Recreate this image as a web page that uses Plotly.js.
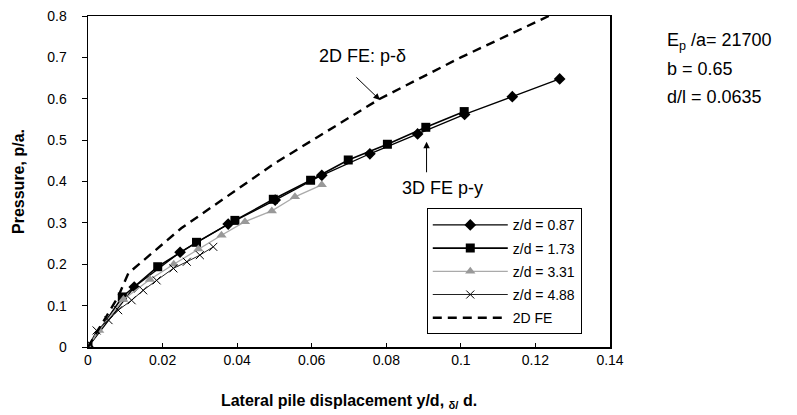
<!DOCTYPE html>
<html>
<head>
<meta charset="utf-8">
<script src="https://cdn.plot.ly/plotly-3.0.1.min.js"></script>
<style>html,body{margin:0;padding:0;background:#fff}#chart{width:797px;height:415px}</style>
</head>
<body>
<div id="chart"></div>
<script>
// z/d = 0.87 (diamonds)
const x087 = [0, 0.0124, 0.0247, 0.0376, 0.0502, 0.0627, 0.0756, 0.0884, 0.1010, 0.1138, 0.1265];
const y087 = [0, 0.145, 0.229, 0.297, 0.355, 0.415, 0.467, 0.515, 0.562, 0.605, 0.648];
// z/d = 1.73 (squares)
const x173 = [0, 0.0092, 0.0187, 0.0291, 0.0394, 0.0497, 0.0597, 0.0698, 0.0803, 0.0906, 0.1009];
const y173 = [0, 0.121, 0.194, 0.253, 0.306, 0.357, 0.403, 0.452, 0.490, 0.531, 0.569];
// z/d = 3.31 (triangles)
const x331 = [0, 0.0030, 0.0095, 0.0166, 0.0230, 0.0296, 0.0358, 0.0421, 0.0493, 0.0555, 0.0627];
const y331 = [0, 0.040, 0.115, 0.163, 0.200, 0.237, 0.270, 0.303, 0.329, 0.363, 0.392];
// z/d = 4.88 (crosses)
const x488 = [0, 0.0023, 0.0055, 0.0081, 0.0117, 0.0148, 0.0184, 0.0229, 0.0265, 0.0300, 0.0336];
const y488 = [0, 0.040, 0.065, 0.089, 0.113, 0.137, 0.161, 0.190, 0.206, 0.222, 0.242];
// 2D FE (dashed)
const x2d = [0, 0.0080, 0.0108, 0.0250, 0.0501, 0.0783, 0.1000, 0.1243];
const y2d = [0, 0.120, 0.178, 0.287, 0.444, 0.600, 0.700, 0.803];

const names = ['z/d = 0.87', 'z/d = 1.73', 'z/d = 3.31', 'z/d = 4.88', '2D FE'];
const xTicks = [0, 0.02, 0.04, 0.06, 0.08, 0.1, 0.12, 0.14];
const xTickText = ['0', '0.02', '0.04', '0.06', '0.08', '0.1', '0.12', '0.14'];
const yTicks = [0, 0.1, 0.2, 0.3, 0.4, 0.5, 0.6, 0.7, 0.8];
const yTickText = ['0', '0.1', '0.2', '0.3', '0.4', '0.5', '0.6', '0.7', '0.8'];

const font = 'Arial, "Liberation Sans", sans-serif';
const traces = [
  {x: x087, y: y087, name: names[0], legendgroup: 'a', mode: 'lines+markers',
   line: {color: '#000', width: 1.3}, marker: {symbol: 'diamond', size: 9, color: '#000'}},
  {x: x173, y: y173, name: names[1], legendgroup: 'b', mode: 'lines+markers',
   line: {color: '#000', width: 1.6}, marker: {symbol: 'square', size: 9, color: '#000'}},
  {x: x331, y: y331, name: names[2], legendgroup: 'c', mode: 'lines+markers',
   line: {color: '#aaa', width: 1.3}, marker: {symbol: 'triangle-up', size: 9, color: '#999'}},
  {x: x488, y: y488, name: names[3], legendgroup: 'd', mode: 'lines+markers',
   line: {color: '#222', width: 1}, marker: {symbol: 'x-thin', size: 8, color: '#000', line: {color: '#000', width: 1}}},
  {x: x2d, y: y2d, name: names[4], legendgroup: 'e', mode: 'lines',
   line: {color: '#000', width: 2.4, dash: '9px,6px'}}
];

const layout = {
  width: 797, height: 415,
  margin: {l: 88, r: 187, t: 16, b: 68},
  paper_bgcolor: '#fff', plot_bgcolor: '#fff',
  font: {family: font, color: '#000', size: 14},
  showlegend: true,
  legend: {x: 0.649, xanchor: 'left', y: 0.419, yanchor: 'top',
    bordercolor: '#000', borderwidth: 1, bgcolor: '#fff', itemwidth: 75,
    font: {family: font, size: 14, color: '#000'}, tracegroupgap: 2, traceorder: 'grouped'},
  xaxis: {range: [0, 0.14], tickvals: xTicks, ticktext: xTickText, showgrid: false, zeroline: false,
    showline: true, linecolor: '#000', linewidth: 1.5, mirror: true,
    ticks: 'inside', ticklen: 4, tickcolor: '#000',
    tickfont: {family: font, size: 14},
    title: {text: '<b>Lateral pile displacement y/d, <sub>δ/</sub> d.</b>', font: {family: font, size: 16}, standoff: 27}},
  yaxis: {range: [0, 0.8], tickvals: yTicks, ticktext: yTickText, showgrid: false, zeroline: false,
    showline: true, linecolor: '#000', linewidth: 1.5, mirror: true,
    ticks: 'outside', ticklen: 5, tickcolor: '#000', ticklabelstandoff: 12,
    tickfont: {family: font, size: 14},
    title: {text: '<b>Pressure, p/a.</b>', font: {family: font, size: 16}, standoff: 18}},
  annotations: [
    {x: 362, y: 56, xref: 'paper', yref: 'paper', text: '2D FE: p-δ', showarrow: false,
     font: {family: font, size: 18}, xanchor: 'center', yanchor: 'middle'},
    {x: 0.0783, y: 0.597, xref: 'x', yref: 'y', text: '', showarrow: true, ax: -25, ay: -24,
     arrowhead: 2, arrowsize: 1.3, arrowwidth: 1, arrowcolor: '#000'},
    {x: 0.0908, y: 0.496, xref: 'x', yref: 'y', text: '', showarrow: true, ax: 0, ay: 32,
     arrowhead: 2, arrowsize: 1.3, arrowwidth: 1, arrowcolor: '#000'},
    {x: 442, y: 188, text: '3D FE p-y', showarrow: false, font: {family: font, size: 18}},
    {x: 665, y: 41, text: 'E<sub>p</sub> /a= 21700', showarrow: false, font: {family: font, size: 18}, xanchor: 'left'},
    {x: 665, y: 69, text: 'b = 0.65', showarrow: false, font: {family: font, size: 18}, xanchor: 'left'},
    {x: 665, y: 97, text: 'd/l = 0.0635', showarrow: false, font: {family: font, size: 18}, xanchor: 'left'}
  ]
};
// convert pixel-positioned text annotations to paper coords
const pw = 797 - 88 - 187, ph = 415 - 16 - 68;
layout.annotations.forEach(a => {
  if (!a.xref) {
    a.xref = 'paper'; a.yref = 'paper';
    a.x = (a.x - 88) / pw; a.y = (415 - 68 - a.y) / ph;
    a.yanchor = 'middle'; if (!a.xanchor) a.xanchor = 'center';
  } else if (a.xref === 'paper' && a.x > 1) {
    a.x = (a.x - 88) / pw; a.y = (415 - 68 - a.y) / ph;
  }
});
Plotly.newPlot('chart', traces, layout, {displayModeBar: false, staticPlot: true});
</script>
</body>
</html>
